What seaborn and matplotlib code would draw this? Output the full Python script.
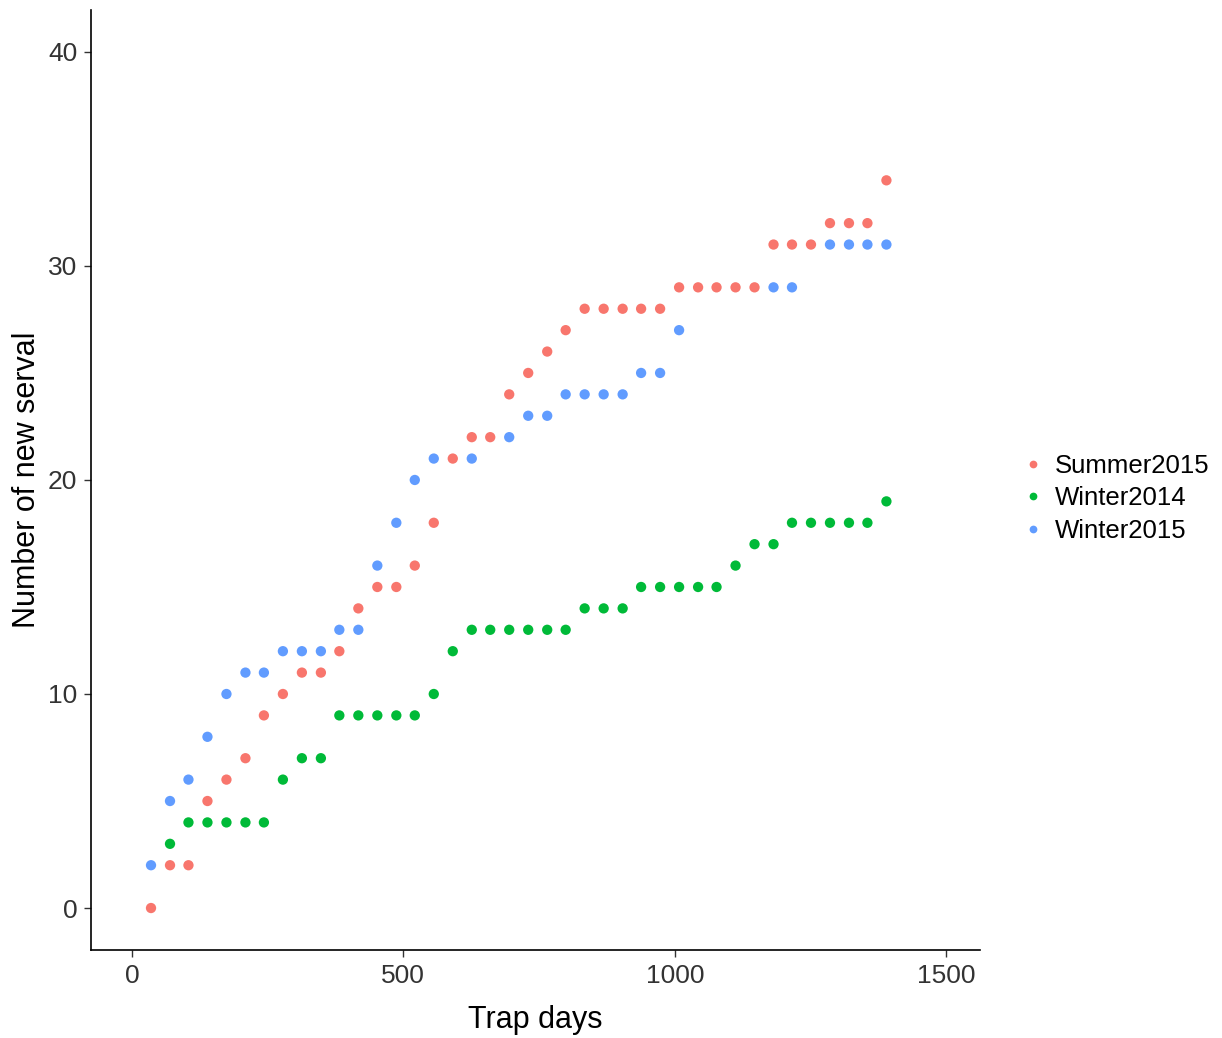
import numpy as np
import pandas as pd
import matplotlib
matplotlib.use("Agg")
import matplotlib.pyplot as plt
import seaborn as sns

# trap days for each sampling step (same for all seasons)
trap_days = [35, 70, 104, 139, 174, 209, 243, 278, 313, 348,
             382, 417, 452, 487, 521, 556, 591, 626, 660, 695,
             730, 765, 799, 834, 869, 904, 938, 973, 1008, 1043,
             1077, 1112, 1147, 1182, 1216, 1251, 1286, 1321, 1355, 1390]

summer_2015 = [0, 2, 2, 5, 6, 7, 9, 10, 11, 11,
               12, 14, 15, 15, 16, 18, 21, 22, 22, 24,
               25, 26, 27, 28, 28, 28, 28, 28, 29, 29,
               29, 29, 29, 31, 31, 31, 32, 32, 32, 34]

# nan = point hidden behind another season in the picture
winter_2014 = [np.nan, 3, 4, 4, 4, 4, 4, 6, 7, 7,
               9, 9, 9, 9, 9, 10, 12, 13, 13, 13,
               13, 13, 13, 14, 14, 14, 15, 15, 15, 15,
               15, 16, 17, 17, 18, 18, 18, 18, 18, 19]

winter_2015 = [2, 5, 6, 8, 10, 11, 11, 12, 12, 12,
               13, 13, 16, 18, 20, 21, np.nan, 21, np.nan, 22,
               23, 23, 24, 24, 24, 24, 25, 25, 27, np.nan,
               np.nan, np.nan, np.nan, 29, 29, np.nan, 31, 31, 31, 31]

seasons = ["Summer2015", "Winter2014", "Winter2015"]
colors = ["#F8766D", "#00BA38", "#619CFF"]


def build_frame():
    parts = [("Summer2015", summer_2015), ("Winter2014", winter_2014), ("Winter2015", winter_2015)]
    frames = [pd.DataFrame({"trap_days": trap_days, "new_serval": vals, "season": name}) for name, vals in parts]
    return pd.concat(frames, ignore_index = True).dropna()


df = build_frame()

sns.set_style("ticks")
plt.rcParams["font.family"] = ["Liberation Sans", "DejaVu Sans"]
plt.rcParams["text.color"] = "black"
plt.rcParams["axes.labelcolor"] = "black"

fig = plt.figure(figsize = (12.22, 10.38), dpi = 100)
ax = fig.add_axes([0.0745, 0.0848, 0.7275, 0.9056])

sns.scatterplot(data = df, x = "trap_days", y = "new_serval", hue = "season", hue_order = seasons,
                palette = dict(zip(seasons, colors)), s = 55, linewidth = 0, ax = ax)

ax.set_xlim(-75.5, 1562.5)
ax.set_ylim(-1.96, 41.96)
ax.set_xticks([0, 500, 1000, 1500])
ax.set_yticks([0, 10, 20, 30, 40])
ax.set_xlabel("Trap days", fontsize = 22, labelpad = 12, color = "black")
ax.set_ylabel("Number of new serval", fontsize = 22, labelpad = 4, color = "black")
ax.tick_params(axis = "both", labelsize = 19, length = 5, width = 1, color = "#333333", labelcolor = "#333333", pad = 5)

for side in ["top", "right"]:
    ax.spines[side].set_visible(False)
for side in ["left", "bottom"]:
    ax.spines[side].set_linewidth(1.2)
    ax.spines[side].set_color("black")

handles, labels = ax.get_legend_handles_labels()
leg = ax.legend(handles, labels, loc = "center left", bbox_to_anchor = (0.837, 0.52), bbox_transform = fig.transFigure,
                frameon = False, fontsize = 18.5, handlelength = 0.8, handletextpad = 0.45, labelspacing = 0.33,
                borderpad = 0, borderaxespad = 0, markerscale = 0.75)
for txt in leg.get_texts():
    txt.set_color("black")

fig.savefig("out.png", dpi = 100)
